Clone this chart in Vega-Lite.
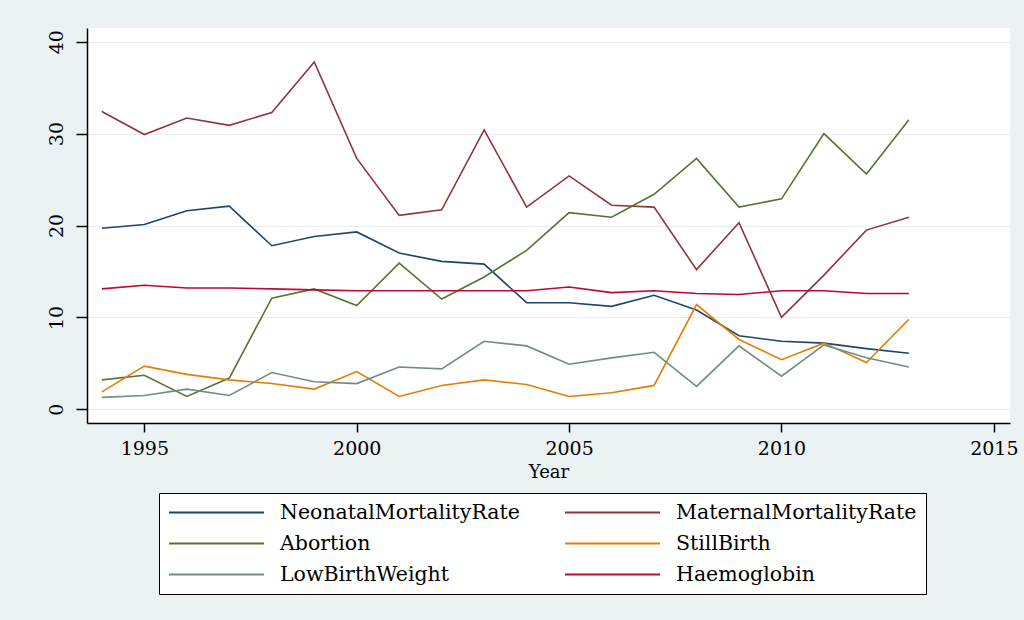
{
  "$schema": "https://vega.github.io/schema/vega-lite/v6.json",
  "width": 923,
  "height": 395,
  "autosize": {"type": "none"},
  "padding": {"left": 87, "top": 28, "right": 14, "bottom": 197},
  "background": "#eaf2f3",
  "config": {
    "view": {"fill": "white", "stroke": null},
    "font": "DejaVu Serif",
    "axis": {"labelFont": "DejaVu Serif", "titleFont": "DejaVu Serif", "labelColor": "black", "titleColor": "black", "domainColor": "black", "tickColor": "black", "domainWidth": 1.5, "tickWidth": 1.5}
  },
  "data": {
    "values": [
      {"Year": 1994, "Series": "NeonatalMortalityRate", "Value": 19.7},
      {"Year": 1995, "Series": "NeonatalMortalityRate", "Value": 20.1},
      {"Year": 1996, "Series": "NeonatalMortalityRate", "Value": 21.6},
      {"Year": 1997, "Series": "NeonatalMortalityRate", "Value": 22.1},
      {"Year": 1998, "Series": "NeonatalMortalityRate", "Value": 17.8},
      {"Year": 1999, "Series": "NeonatalMortalityRate", "Value": 18.8},
      {"Year": 2000, "Series": "NeonatalMortalityRate", "Value": 19.3},
      {"Year": 2001, "Series": "NeonatalMortalityRate", "Value": 17.0},
      {"Year": 2002, "Series": "NeonatalMortalityRate", "Value": 16.1},
      {"Year": 2003, "Series": "NeonatalMortalityRate", "Value": 15.8},
      {"Year": 2004, "Series": "NeonatalMortalityRate", "Value": 11.6},
      {"Year": 2005, "Series": "NeonatalMortalityRate", "Value": 11.6},
      {"Year": 2006, "Series": "NeonatalMortalityRate", "Value": 11.2},
      {"Year": 2007, "Series": "NeonatalMortalityRate", "Value": 12.4},
      {"Year": 2008, "Series": "NeonatalMortalityRate", "Value": 10.8},
      {"Year": 2009, "Series": "NeonatalMortalityRate", "Value": 8.0},
      {"Year": 2010, "Series": "NeonatalMortalityRate", "Value": 7.4},
      {"Year": 2011, "Series": "NeonatalMortalityRate", "Value": 7.2},
      {"Year": 2012, "Series": "NeonatalMortalityRate", "Value": 6.6},
      {"Year": 2013, "Series": "NeonatalMortalityRate", "Value": 6.1},
      {"Year": 1994, "Series": "MaternalMortalityRate", "Value": 32.4},
      {"Year": 1995, "Series": "MaternalMortalityRate", "Value": 29.9},
      {"Year": 1996, "Series": "MaternalMortalityRate", "Value": 31.7},
      {"Year": 1997, "Series": "MaternalMortalityRate", "Value": 30.9},
      {"Year": 1998, "Series": "MaternalMortalityRate", "Value": 32.3},
      {"Year": 1999, "Series": "MaternalMortalityRate", "Value": 37.8},
      {"Year": 2000, "Series": "MaternalMortalityRate", "Value": 27.3},
      {"Year": 2001, "Series": "MaternalMortalityRate", "Value": 21.1},
      {"Year": 2002, "Series": "MaternalMortalityRate", "Value": 21.7},
      {"Year": 2003, "Series": "MaternalMortalityRate", "Value": 30.4},
      {"Year": 2004, "Series": "MaternalMortalityRate", "Value": 22.0},
      {"Year": 2005, "Series": "MaternalMortalityRate", "Value": 25.4},
      {"Year": 2006, "Series": "MaternalMortalityRate", "Value": 22.2},
      {"Year": 2007, "Series": "MaternalMortalityRate", "Value": 22.0},
      {"Year": 2008, "Series": "MaternalMortalityRate", "Value": 15.2},
      {"Year": 2009, "Series": "MaternalMortalityRate", "Value": 20.3},
      {"Year": 2010, "Series": "MaternalMortalityRate", "Value": 10.0},
      {"Year": 2011, "Series": "MaternalMortalityRate", "Value": 14.6},
      {"Year": 2012, "Series": "MaternalMortalityRate", "Value": 19.5},
      {"Year": 2013, "Series": "MaternalMortalityRate", "Value": 20.9},
      {"Year": 1994, "Series": "Abortion", "Value": 3.2},
      {"Year": 1995, "Series": "Abortion", "Value": 3.7},
      {"Year": 1996, "Series": "Abortion", "Value": 1.4},
      {"Year": 1997, "Series": "Abortion", "Value": 3.4},
      {"Year": 1998, "Series": "Abortion", "Value": 12.1},
      {"Year": 1999, "Series": "Abortion", "Value": 13.1},
      {"Year": 2000, "Series": "Abortion", "Value": 11.3},
      {"Year": 2001, "Series": "Abortion", "Value": 15.9},
      {"Year": 2002, "Series": "Abortion", "Value": 12.0},
      {"Year": 2003, "Series": "Abortion", "Value": 14.4},
      {"Year": 2004, "Series": "Abortion", "Value": 17.3},
      {"Year": 2005, "Series": "Abortion", "Value": 21.4},
      {"Year": 2006, "Series": "Abortion", "Value": 20.9},
      {"Year": 2007, "Series": "Abortion", "Value": 23.4},
      {"Year": 2008, "Series": "Abortion", "Value": 27.3},
      {"Year": 2009, "Series": "Abortion", "Value": 22.0},
      {"Year": 2010, "Series": "Abortion", "Value": 22.9},
      {"Year": 2011, "Series": "Abortion", "Value": 30.0},
      {"Year": 2012, "Series": "Abortion", "Value": 25.6},
      {"Year": 2013, "Series": "Abortion", "Value": 31.5},
      {"Year": 1994, "Series": "StillBirth", "Value": 1.9},
      {"Year": 1995, "Series": "StillBirth", "Value": 4.7},
      {"Year": 1996, "Series": "StillBirth", "Value": 3.8},
      {"Year": 1997, "Series": "StillBirth", "Value": 3.2},
      {"Year": 1998, "Series": "StillBirth", "Value": 2.8},
      {"Year": 1999, "Series": "StillBirth", "Value": 2.2},
      {"Year": 2000, "Series": "StillBirth", "Value": 4.1},
      {"Year": 2001, "Series": "StillBirth", "Value": 1.4},
      {"Year": 2002, "Series": "StillBirth", "Value": 2.6},
      {"Year": 2003, "Series": "StillBirth", "Value": 3.2},
      {"Year": 2004, "Series": "StillBirth", "Value": 2.7},
      {"Year": 2005, "Series": "StillBirth", "Value": 1.4},
      {"Year": 2006, "Series": "StillBirth", "Value": 1.8},
      {"Year": 2007, "Series": "StillBirth", "Value": 2.6},
      {"Year": 2008, "Series": "StillBirth", "Value": 11.4},
      {"Year": 2009, "Series": "StillBirth", "Value": 7.6},
      {"Year": 2010, "Series": "StillBirth", "Value": 5.4},
      {"Year": 2011, "Series": "StillBirth", "Value": 7.2},
      {"Year": 2012, "Series": "StillBirth", "Value": 5.1},
      {"Year": 2013, "Series": "StillBirth", "Value": 9.8},
      {"Year": 1994, "Series": "LowBirthWeight", "Value": 1.3},
      {"Year": 1995, "Series": "LowBirthWeight", "Value": 1.5},
      {"Year": 1996, "Series": "LowBirthWeight", "Value": 2.2},
      {"Year": 1997, "Series": "LowBirthWeight", "Value": 1.5},
      {"Year": 1998, "Series": "LowBirthWeight", "Value": 4.0},
      {"Year": 1999, "Series": "LowBirthWeight", "Value": 3.0},
      {"Year": 2000, "Series": "LowBirthWeight", "Value": 2.8},
      {"Year": 2001, "Series": "LowBirthWeight", "Value": 4.6},
      {"Year": 2002, "Series": "LowBirthWeight", "Value": 4.4},
      {"Year": 2003, "Series": "LowBirthWeight", "Value": 7.4},
      {"Year": 2004, "Series": "LowBirthWeight", "Value": 6.9},
      {"Year": 2005, "Series": "LowBirthWeight", "Value": 4.9},
      {"Year": 2006, "Series": "LowBirthWeight", "Value": 5.6},
      {"Year": 2007, "Series": "LowBirthWeight", "Value": 6.2},
      {"Year": 2008, "Series": "LowBirthWeight", "Value": 2.5},
      {"Year": 2009, "Series": "LowBirthWeight", "Value": 6.9},
      {"Year": 2010, "Series": "LowBirthWeight", "Value": 3.6},
      {"Year": 2011, "Series": "LowBirthWeight", "Value": 7.0},
      {"Year": 2012, "Series": "LowBirthWeight", "Value": 5.6},
      {"Year": 2013, "Series": "LowBirthWeight", "Value": 4.6},
      {"Year": 1994, "Series": "Haemoglobin", "Value": 13.1},
      {"Year": 1995, "Series": "Haemoglobin", "Value": 13.5},
      {"Year": 1996, "Series": "Haemoglobin", "Value": 13.2},
      {"Year": 1997, "Series": "Haemoglobin", "Value": 13.2},
      {"Year": 1998, "Series": "Haemoglobin", "Value": 13.1},
      {"Year": 1999, "Series": "Haemoglobin", "Value": 13.0},
      {"Year": 2000, "Series": "Haemoglobin", "Value": 12.9},
      {"Year": 2001, "Series": "Haemoglobin", "Value": 12.9},
      {"Year": 2002, "Series": "Haemoglobin", "Value": 12.9},
      {"Year": 2003, "Series": "Haemoglobin", "Value": 12.9},
      {"Year": 2004, "Series": "Haemoglobin", "Value": 12.9},
      {"Year": 2005, "Series": "Haemoglobin", "Value": 13.3},
      {"Year": 2006, "Series": "Haemoglobin", "Value": 12.7},
      {"Year": 2007, "Series": "Haemoglobin", "Value": 12.9},
      {"Year": 2008, "Series": "Haemoglobin", "Value": 12.6},
      {"Year": 2009, "Series": "Haemoglobin", "Value": 12.5},
      {"Year": 2010, "Series": "Haemoglobin", "Value": 12.9},
      {"Year": 2011, "Series": "Haemoglobin", "Value": 12.9},
      {"Year": 2012, "Series": "Haemoglobin", "Value": 12.6},
      {"Year": 2013, "Series": "Haemoglobin", "Value": 12.6}
    ]
  },
  "mark": {"type": "line", "strokeWidth": 1.6},
  "encoding": {
    "x": {
      "field": "Year", "type": "quantitative",
      "scale": {"domain": [1993.65, 2015.38], "nice": false, "zero": false},
      "axis": {"values": [1995, 2000, 2005, 2010, 2015], "format": "d", "title": "Year", "grid": false,
        "tickSize": 9, "labelFontSize": 19, "labelPadding": 7, "titleFontSize": 18, "titleFontWeight": "normal", "titlePadding": 5}
    },
    "y": {
      "field": "Value", "type": "quantitative",
      "scale": {"domain": [-1.49, 41.49], "nice": false, "zero": false},
      "axis": {"values": [0, 10, 20, 30, 40], "title": null, "grid": true, "gridColor": "#e6eef0", "gridWidth": 1.2,
        "tickSize": 11, "labelFontSize": 19, "labelAngle": -90, "labelAlign": "center", "labelBaseline": "bottom", "labelPadding": 10}
    },
    "color": {
      "field": "Series", "type": "nominal",
      "scale": {
        "domain": ["NeonatalMortalityRate", "MaternalMortalityRate", "Abortion", "StillBirth", "LowBirthWeight", "Haemoglobin"],
        "range": ["#1a476f", "#90353b", "#55752f", "#e37e00", "#6e8e84", "#c10534"]
      },
      "legend": {
        "title": null, "orient": "none", "legendX": 72, "legendY": 465, "columns": 2, "direction": "horizontal",
        "symbolType": "M-1,0H9", "symbolSize": 361, "symbolStrokeWidth": 2,
        "labelFont": "DejaVu Serif", "labelFontSize": 20.5, "labelColor": "black", "labelOffset": 91, "labelLimit": 400,
        "columnPadding": 41, "rowPadding": 10, "padding": 9,
        "strokeColor": "black", "fillColor": "white", "cornerRadius": 0
      }
    }
  }
}
